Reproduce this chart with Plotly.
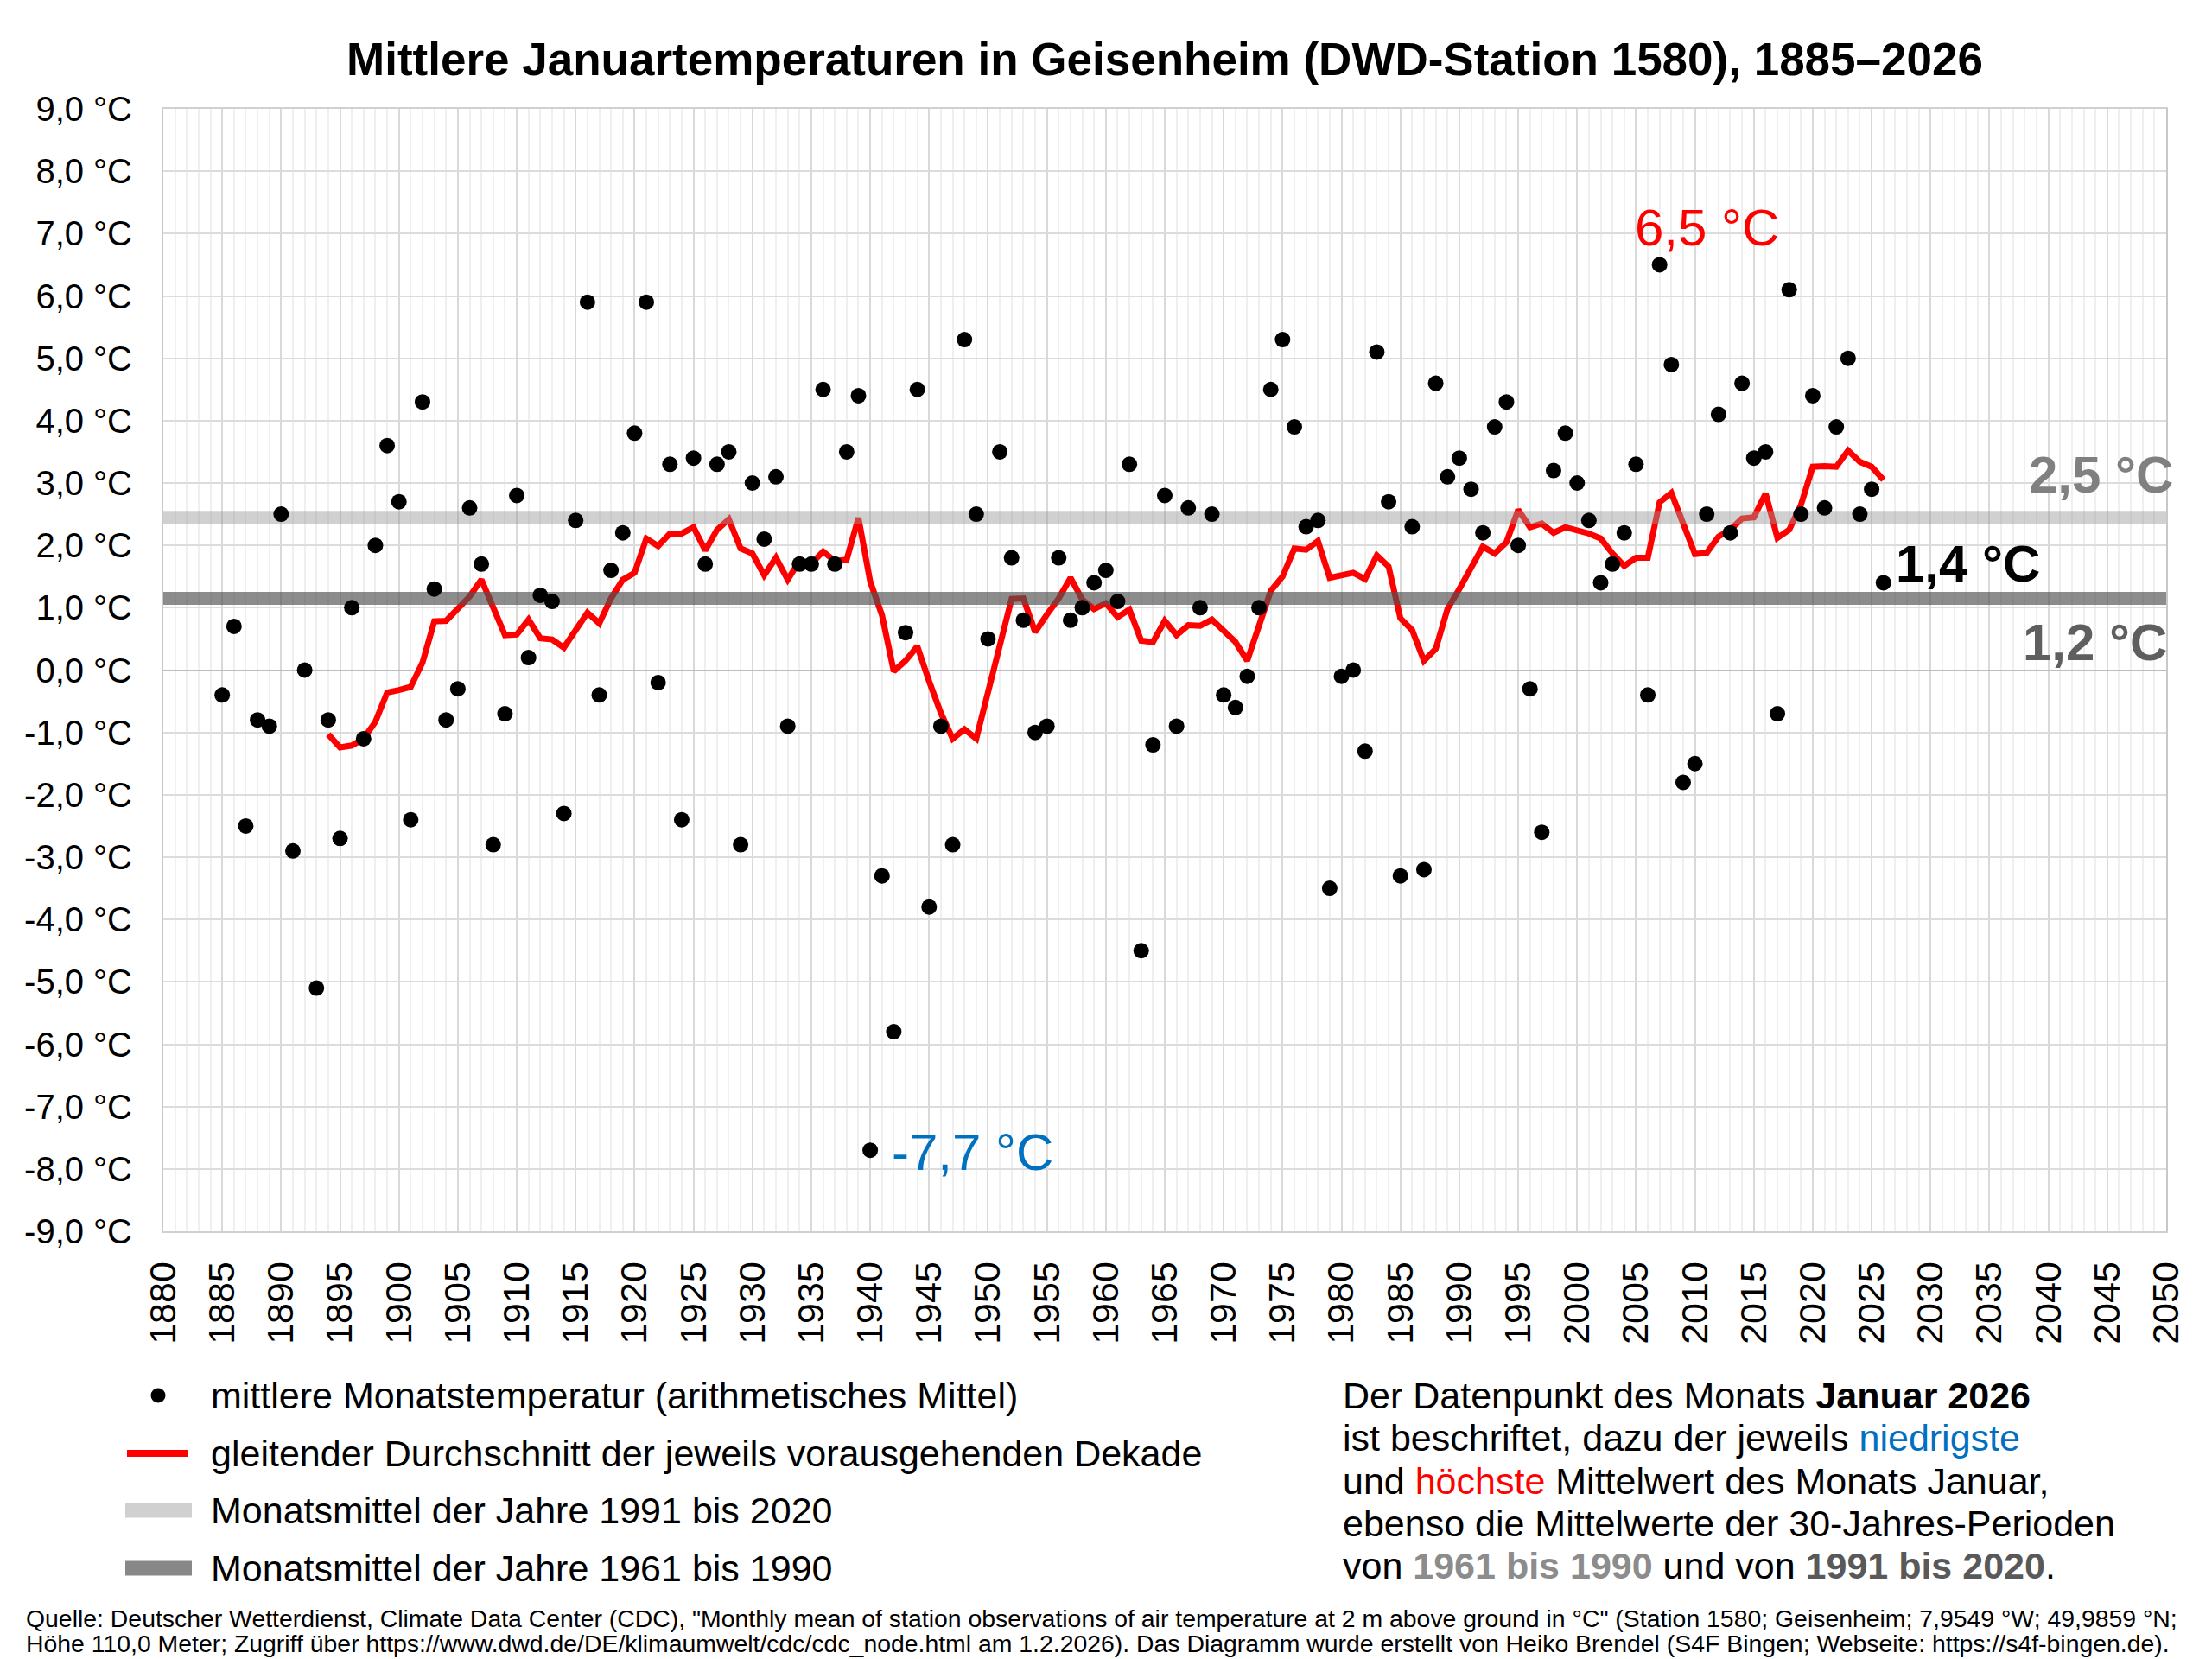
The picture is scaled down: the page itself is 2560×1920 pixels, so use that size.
import plotly.graph_objects as go

# ---------------- data ----------------
years = list(range(1885, 2027))
jan_temp = [
    -0.4, 0.7, -2.5, -0.8, -0.9, 2.5, -2.9, 0.0, -5.1, -0.8,          # 1885-1894
    -2.7, 1.0, -1.1, 2.0, 3.6, 2.7, -2.4, 4.3, 1.3, -0.8,             # 1895-1904
    -0.3, 2.6, 1.7, -2.8, -0.7, 2.8, 0.2, 1.2, 1.1, -2.3,             # 1905-1914
    2.4, 5.9, -0.4, 1.6, 2.2, 3.8, 5.9, -0.2, 3.3, -2.4,              # 1915-1924
    3.4, 1.7, 3.3, 3.5, -2.8, 3.0, 2.1, 3.1, -0.9, 1.7,               # 1925-1934
    1.7, 4.5, 1.7, 3.5, 4.4, -7.7, -3.3, -5.8, 0.6, 4.5,              # 1935-1944
    -3.8, -0.9, -2.8, 5.3, 2.5, 0.5, 3.5, 1.8, 0.8, -1.0,             # 1945-1954
    -0.9, 1.8, 0.8, 1.0, 1.4, 1.6, 1.1, 3.3, -4.5, -1.2,              # 1955-1964
    2.8, -0.9, 2.6, 1.0, 2.5, -0.4, -0.6, -0.1, 1.0, 4.5,             # 1965-1974
    5.3, 3.9, 2.3, 2.4, -3.5, -0.1, 0.0, -1.3, 5.1, 2.7,              # 1975-1984
    -3.3, 2.3, -3.2, 4.6, 3.1, 3.4, 2.9, 2.2, 3.9, 4.3,               # 1985-1994
    2.0, -0.3, -2.6, 3.2, 3.8, 3.0, 2.4, 1.4, 1.7, 2.2,               # 1995-2004
    3.3, -0.4, 6.5, 4.9, -1.8, -1.5, 2.5, 4.1, 2.2, 4.6,              # 2005-2014
    3.4, 3.5, -0.7, 6.1, 2.5, 4.4, 2.6, 3.9, 5.0, 2.5,                # 2015-2024
    2.9, 1.4,                                                          # 2025-2026
]

ma_years = list(range(1894, 2027))
decade_mean = [
    -1.03, -1.24, -1.21, -1.10, -0.83, -0.36, -0.32, -0.27, 0.12, 0.78,   # 1894-1903
    0.79, 1.00, 1.18, 1.45, 1.00, 0.56, 0.57, 0.81, 0.51, 0.49,           # 1904-1913
    0.36, 0.65, 0.92, 0.75, 1.15, 1.45, 1.56, 2.11, 1.99, 2.19,           # 1914-1923
    2.19, 2.29, 1.92, 2.25, 2.42, 1.95, 1.87, 1.52, 1.80, 1.45,           # 1924-1933
    1.75, 1.71, 1.90, 1.75, 1.77, 2.44, 1.42, 0.88, -0.02, 0.15,          # 1934-1943
    0.38, -0.18, -0.69, -1.10, -0.95, -1.10, -0.33, 0.41, 1.14, 1.15,     # 1944-1953
    0.61, 0.89, 1.15, 1.48, 1.13, 0.98, 1.07, 0.85, 0.97, 0.47,           # 1954-1963
    0.45, 0.79, 0.56, 0.72, 0.71, 0.81, 0.62, 0.45, 0.15, 0.71,           # 1964-1973
    1.27, 1.50, 1.95, 1.93, 2.07, 1.48, 1.52, 1.56, 1.46, 1.84,           # 1974-1983
    1.66, 0.83, 0.64, 0.15, 0.34, 0.98, 1.30, 1.63, 1.98, 1.87,           # 1984-1993
    2.05, 2.57, 2.29, 2.35, 2.20, 2.29, 2.25, 2.19, 2.11, 1.87,           # 1994-2003
    1.67, 1.80, 1.80, 2.69, 2.84, 2.35, 1.86, 1.88, 2.14, 2.25,           # 2004-2013
    2.43, 2.45, 2.83, 2.12, 2.25, 2.65, 3.26, 3.27, 3.26, 3.52,           # 2014-2023
    3.34, 3.26, 3.05,                                                     # 2024-2026
]

mean_1991_2020 = 2.45
mean_1961_1990 = 1.15
band_x = [1880, 2050]

y_ticks = list(range(-9, 10))
y_ticktext = [f"{v},0 °C" for v in y_ticks]
x_ticks = list(range(1880, 2051, 5))

title_text = "Mittlere Januartemperaturen in Geisenheim (DWD-Station 1580), 1885–2026"
legend_labels = [
    "mittlere Monatstemperatur (arithmetisches Mittel)",
    "gleitender Durchschnitt der jeweils vorausgehenden Dekade",
    "Monatsmittel der Jahre 1991 bis 2020",
    "Monatsmittel der Jahre 1961 bis 1990",
]
info_lines = [
    "Der Datenpunkt des Monats <b>Januar 2026</b>",
    "ist beschriftet, dazu der jeweils <span style='color:#0070c0'>niedrigste</span>",
    "und <span style='color:#ff0000'>höchste</span> Mittelwert des Monats Januar,",
    "ebenso die Mittelwerte der 30-Jahres-Perioden",
    "von <b><span style='color:#8c8c8c'>1961 bis 1990</span></b> und von "
    "<b><span style='color:#595959'>1991 bis 2020</span></b>.",
]
source_lines = [
    "Quelle: Deutscher Wetterdienst, Climate Data Center (CDC), \"Monthly mean of station observations "
    "of air temperature at 2 m above ground in °C\" (Station 1580; Geisenheim; 7,9549 °W; 49,9859 °N;",
    "Höhe 110,0 Meter; Zugriff über https://www.dwd.de/DE/klimaumwelt/cdc/cdc_node.html am 1.2.2026). "
    "Das Diagramm wurde erstellt von Heiko Brendel (S4F Bingen; Webseite: https://s4f-bingen.de).",
]

# ---------------- layout geometry ----------------
W, H = 2560, 1920
L, R, T, B = 181, 61, 118, 503
FONT = "Liberation Sans, Arial, sans-serif"


def px_x(p):
    return (p - L) / (W - L - R)


def px_y(p):
    return (H - B - p) / (H - T - B)


fig = go.Figure()

# moving average (drawn first, bands are translucent on top)
fig.add_trace(go.Scatter(
    x=ma_years, y=decade_mean, mode="lines",
    line=dict(color="#ff0000", width=7), showlegend=False, hoverinfo="skip"))

# 30-year means
fig.add_trace(go.Scatter(
    x=band_x, y=[mean_1991_2020] * 2, mode="lines",
    line=dict(color="rgba(150,150,150,0.45)", width=15), showlegend=False))
fig.add_trace(go.Scatter(
    x=band_x, y=[mean_1961_1990] * 2, mode="lines",
    line=dict(color="rgba(80,80,80,0.66)", width=15), showlegend=False))

# monthly means
fig.add_trace(go.Scatter(
    x=years, y=jan_temp, mode="markers",
    marker=dict(color="#000000", size=18), showlegend=False))

annotations = [
    dict(x=2011.0, y=7.1, xref="x", yref="y", text="6,5 °C", showarrow=False,
         font=dict(family=FONT, size=60, color="#ff0000"), xanchor="center", yanchor="middle"),
    dict(x=1941.7, y=-7.73, xref="x", yref="y", text="-7,7 °C", showarrow=False,
         font=dict(family=FONT, size=60, color="#0070c0"), xanchor="left", yanchor="middle"),
    dict(x=px_x(2509), y=3.13, xref="paper", yref="y", text="<b>2,5 °C</b>", showarrow=False,
         font=dict(family=FONT, size=60, color="#808080"), xanchor="right", yanchor="middle"),
    dict(x=2026.9, y=1.71, xref="x", yref="y", text="<b>1,4 °C</b>", showarrow=False,
         font=dict(family=FONT, size=60, color="#000000"), xanchor="left", yanchor="middle"),
    dict(x=px_x(2502), y=0.45, xref="paper", yref="y", text="<b>1,2 °C</b>", showarrow=False,
         font=dict(family=FONT, size=60, color="#5f5f5f"), xanchor="right", yanchor="middle"),
]

# custom legend
legend_y = [1607, 1674, 1740, 1807]
for lab, yy in zip(legend_labels, legend_y):
    annotations.append(dict(
        x=px_x(234), y=px_y(yy), xref="paper", yref="paper", text=lab, showarrow=False,
        font=dict(family=FONT, size=43, color="#000000"), xanchor="left", yanchor="middle"))

info_y = [1607, 1656, 1706, 1755, 1804]
for line, yy in zip(info_lines, info_y):
    annotations.append(dict(
        x=px_x(1544), y=px_y(yy), xref="paper", yref="paper", text=line, showarrow=False,
        align="left", font=dict(family=FONT, size=43, color="#000000"),
        xanchor="left", yanchor="middle"))

source_y = [1865, 1894]
for line, yy in zip(source_lines, source_y):
    annotations.append(dict(
        x=px_x(20), y=px_y(yy), xref="paper", yref="paper", text=line, showarrow=False,
        align="left", font=dict(family=FONT, size=28.4, color="#000000"),
        xanchor="left", yanchor="middle"))

shapes = [
    dict(type="circle", xref="paper", yref="paper",
         x0=px_x(175 - 8.5), x1=px_x(175 + 8.5), y0=px_y(1607 + 8.5), y1=px_y(1607 - 8.5),
         fillcolor="#000000", line=dict(width=0)),
    dict(type="line", xref="paper", yref="paper",
         x0=px_x(139), x1=px_x(210), y0=px_y(1674), y1=px_y(1674),
         line=dict(color="#ff0000", width=8)),
    dict(type="line", xref="paper", yref="paper",
         x0=px_x(137), x1=px_x(214), y0=px_y(1740), y1=px_y(1740),
         line=dict(color="#d0d0d0", width=17)),
    dict(type="line", xref="paper", yref="paper",
         x0=px_x(137), x1=px_x(214), y0=px_y(1807), y1=px_y(1807),
         line=dict(color="#888888", width=17)),
]

fig.update_layout(
    width=W, height=H,
    margin=dict(l=L, r=R, t=T, b=B, pad=0),
    paper_bgcolor="#ffffff", plot_bgcolor="#ffffff",
    font=dict(family=FONT, color="#000000"),
    title=dict(text="<b>" + title_text + "</b>", x=0.5, xref="paper", xanchor="center",
               y=1 - 60 / H, yanchor="middle",
               font=dict(family=FONT, size=53, color="#000000")),
    showlegend=False,
    annotations=annotations,
    shapes=shapes,
    xaxis=dict(
        range=[1880, 2050], tickvals=x_ticks, ticktext=[str(v) for v in x_ticks],
        tickangle=-90, tickfont=dict(family=FONT, size=43, color="#000000"),
        showgrid=True, gridcolor="#d9d9d9", gridwidth=2,
        minor=dict(dtick=1, tick0=1880, showgrid=True, gridcolor="#efefef", gridwidth=2),
        showline=True, linecolor="#d0d0d0", linewidth=2, mirror=True,
        zeroline=False, ticks="", ticklabelstandoff=16,
    ),
    yaxis=dict(
        range=[-9, 9], tickvals=y_ticks, ticktext=y_ticktext,
        tickfont=dict(family=FONT, size=40, color="#000000"),
        showgrid=True, gridcolor="#dcdcdc", gridwidth=2,
        zeroline=True, zerolinecolor="#bdbdbd", zerolinewidth=2,
        showline=True, linecolor="#c8c8c8", linewidth=2, mirror=True,
        ticks="", ticklabelstandoff=26,
    ),
)

fig.write_html("out.html")
